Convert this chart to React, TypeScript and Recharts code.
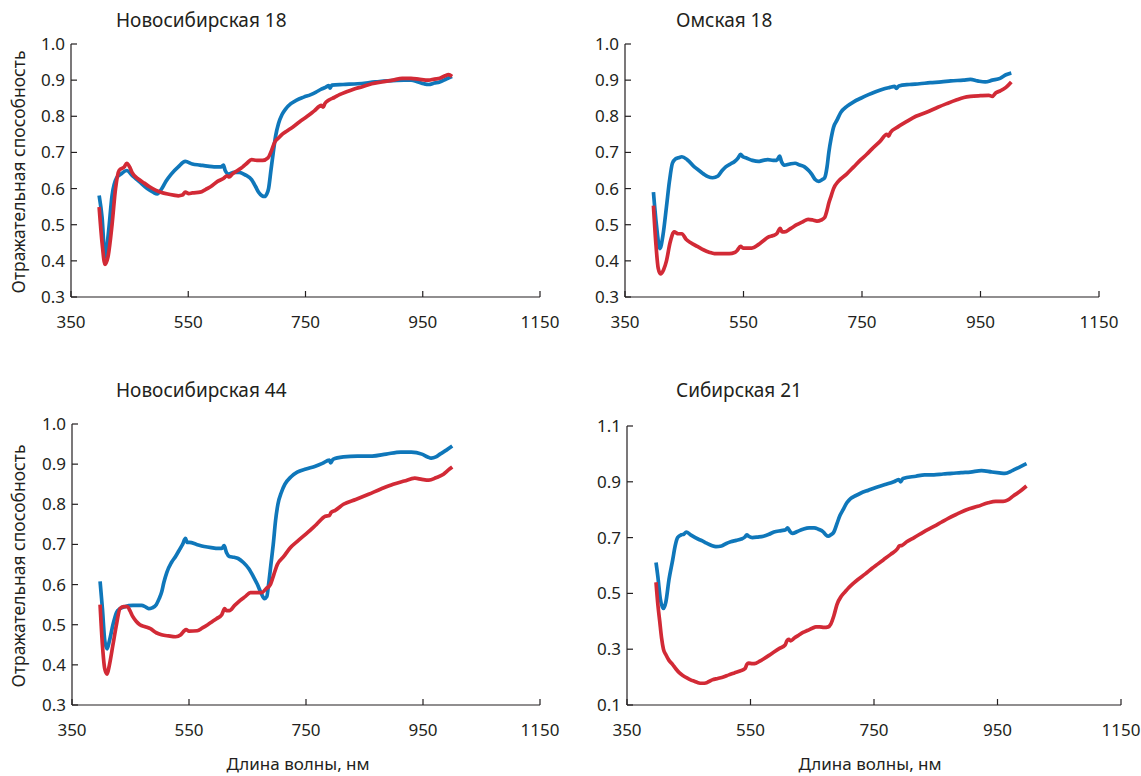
import React from 'react';
import { LineChart, Line, XAxis, YAxis } from 'recharts';

type Pt = [number, number];

const waveTicks = [350, 550, 750, 950, 1150];
const reflTicks = [0.3, 0.4, 0.5, 0.6, 0.7, 0.8, 0.9, 1.0];
const reflTicksWide = [0.1, 0.3, 0.5, 0.7, 0.9, 1.1];

const titles = ['Новосибирская 18', 'Омская 18', 'Новосибирская 44', 'Сибирская 21'];

const nsk18Blue: Pt[] = [[398,.581],[403,.52],[408,.41],[414,.48],[420,.58],[428,.63],[435,.64],[445,.65],[455,.635],[466,.62],[480,.6],[490,.59],[497,.585],[505,.6],[512,.62],[521,.64],[533,.66],[545,.675],[557,.668],[570,.665],[583,.662],[594,.66],[606,.66],[610,.665],[613,.65],[619,.64],[628,.645],[637,.645],[648,.637],[658,.625],[665,.605],[670,.59],[676,.58],[680,.578],[684,.585],[687,.6],[691,.65],[695,.7],[699,.745],[704,.78],[710,.805],[716,.82],[725,.835],[735,.845],[747,.853],[759,.86],[768,.867],[777,.875],[784,.88],[790,.885],[792,.878],[795,.886],[814,.888],[839,.89],[869,.895],[890,.898],[918,.9],[930,.9],[942,.895],[952,.89],[960,.888],[970,.892],[979,.895],[990,.903],[1000,.91]];
const nsk18Red: Pt[] = [[398,.549],[403,.45],[408,.39],[413,.41],[420,.5],[426,.6],[432,.65],[441,.66],[445,.67],[450,.66],[454,.645],[466,.625],[475,.615],[484,.605],[495,.595],[503,.59],[515,.585],[525,.582],[533,.58],[540,.582],[545,.59],[551,.586],[557,.588],[570,.59],[580,.598],[588,.605],[600,.62],[610,.628],[616,.635],[620,.632],[625,.64],[634,.65],[643,.66],[650,.67],[658,.68],[667,.678],[677,.678],[686,.685],[692,.705],[698,.73],[704,.74],[710,.75],[719,.76],[728,.77],[740,.785],[753,.8],[765,.815],[777,.83],[780,.825],[783,.835],[790,.845],[799,.852],[808,.86],[820,.868],[832,.875],[847,.882],[863,.89],[880,.895],[899,.9],[915,.905],[930,.905],[945,.902],[960,.9],[970,.903],[979,.905],[988,.912],[994,.915],[1000,.91]];

const omsk18Blue: Pt[] = [[398,.59],[403,.5],[409,.434],[414,.47],[420,.55],[425,.62],[430,.67],[435,.682],[440,.685],[446,.688],[455,.68],[467,.66],[475,.65],[483,.64],[490,.633],[498,.63],[507,.635],[514,.65],[520,.66],[528,.668],[535,.675],[541,.685],[545,.695],[549,.688],[554,.685],[565,.678],[575,.675],[583,.678],[591,.68],[600,.678],[606,.678],[611,.69],[614,.675],[619,.665],[628,.668],[637,.67],[645,.665],[653,.66],[660,.65],[665,.64],[671,.625],[677,.62],[683,.625],[687,.63],[691,.66],[694,.7],[698,.74],[702,.77],[708,.79],[714,.81],[725,.828],[736,.84],[748,.85],[761,.86],[773,.868],[785,.875],[797,.88],[805,.883],[808,.877],[812,.884],[830,.888],[847,.89],[865,.893],[884,.895],[900,.898],[921,.9],[933,.902],[945,.898],[958,.895],[970,.9],[983,.905],[993,.915],[1002,.92]];
const omsk18Red: Pt[] = [[398,.553],[402,.45],[406,.38],[410,.364],[415,.375],[420,.4],[426,.45],[433,.48],[440,.475],[446,.475],[453,.46],[461,.45],[472,.44],[483,.43],[492,.424],[501,.42],[514,.42],[526,.42],[535,.423],[539,.428],[545,.44],[550,.435],[564,.435],[575,.445],[583,.455],[591,.465],[600,.47],[606,.475],[612,.49],[615,.48],[619,.48],[630,.49],[640,.5],[650,.508],[659,.515],[667,.513],[674,.51],[681,.513],[687,.52],[691,.54],[694,.56],[698,.58],[702,.6],[710,.62],[724,.64],[736,.66],[748,.68],[758,.695],[767,.71],[780,.73],[792,.75],[795,.745],[798,.755],[810,.77],[825,.785],[841,.8],[860,.812],[878,.825],[893,.835],[909,.845],[922,.852],[933,.855],[950,.857],[964,.858],[970,.855],[976,.865],[983,.87],[993,.88],[1002,.895]];

const nsk44Blue: Pt[] = [[398,.608],[402,.54],[406,.46],[410,.44],[414,.46],[420,.5],[426,.53],[432,.54],[440,.545],[454,.548],[462,.548],[469,.548],[475,.545],[481,.54],[487,.542],[494,.55],[499,.565],[503,.58],[507,.605],[512,.63],[520,.655],[527,.67],[533,.685],[539,.7],[544,.715],[547,.705],[551,.705],[563,.7],[576,.695],[588,.692],[600,.69],[606,.69],[610,.697],[614,.68],[619,.67],[627,.668],[634,.665],[643,.655],[652,.64],[660,.62],[667,.6],[673,.58],[679,.565],[683,.57],[686,.6],[690,.65],[694,.7],[698,.76],[702,.8],[708,.83],[714,.85],[724,.868],[735,.88],[750,.888],[766,.895],[778,.902],[790,.91],[792,.903],[796,.912],[814,.918],[838,.92],[863,.92],[887,.925],[912,.93],[930,.93],[948,.925],[958,.918],[964,.915],[972,.918],[979,.925],[990,.935],[1000,.945]];
const nsk44Red: Pt[] = [[398,.55],[402,.45],[406,.39],[410,.377],[414,.4],[420,.45],[426,.5],[432,.54],[438,.545],[445,.545],[449,.535],[454,.52],[460,.508],[466,.5],[475,.495],[484,.49],[494,.48],[503,.475],[515,.472],[527,.47],[536,.475],[542,.485],[545,.488],[550,.484],[564,.485],[573,.492],[582,.5],[590,.508],[597,.515],[606,.525],[611,.54],[614,.535],[619,.535],[628,.548],[637,.56],[646,.57],[655,.58],[665,.58],[674,.58],[682,.59],[689,.6],[695,.625],[701,.65],[712,.67],[722,.69],[737,.71],[753,.73],[768,.75],[783,.77],[790,.772],[793,.78],[800,.785],[814,.8],[835,.812],[857,.825],[878,.838],[899,.85],[918,.858],[936,.865],[948,.862],[960,.86],[972,.866],[985,.875],[993,.885],[1000,.893]];

const sib21Blue: Pt[] = [[397,.611],[400,.56],[404,.48],[409,.446],[413,.47],[418,.55],[424,.62],[428,.67],[432,.7],[438,.71],[442,.712],[446,.72],[453,.71],[465,.695],[472,.688],[479,.68],[487,.672],[494,.668],[503,.67],[510,.678],[518,.685],[527,.69],[535,.695],[541,.702],[544,.71],[547,.705],[553,.7],[562,.702],[571,.705],[580,.712],[588,.72],[600,.725],[607,.728],[610,.735],[614,.722],[618,.715],[626,.722],[635,.73],[645,.735],[653,.735],[660,.73],[668,.72],[672,.71],[676,.705],[680,.71],[685,.72],[690,.75],[695,.78],[700,.8],[706,.825],[712,.84],[720,.85],[729,.86],[741,.87],[753,.88],[768,.89],[782,.9],[790,.908],[793,.9],[797,.912],[818,.92],[832,.925],[847,.925],[862,.928],[876,.93],[891,.933],[906,.935],[924,.94],[941,.935],[953,.932],[962,.93],[974,.94],[985,.952],[997,.965]];
const sib21Red: Pt[] = [[397,.54],[400,.46],[403,.4],[406,.34],[409,.3],[413,.28],[418,.26],[424,.245],[429,.23],[435,.215],[441,.205],[447,.197],[453,.19],[459,.185],[465,.18],[472,.178],[479,.18],[488,.19],[497,.195],[506,.2],[515,.208],[524,.215],[533,.222],[541,.23],[544,.245],[547,.25],[553,.248],[559,.25],[565,.257],[571,.265],[580,.278],[588,.29],[597,.303],[606,.315],[609,.33],[612,.335],[615,.33],[621,.34],[628,.35],[635,.36],[643,.368],[650,.375],[656,.38],[662,.38],[669,.378],[676,.38],[680,.39],[685,.42],[690,.46],[697,.49],[703,.505],[709,.52],[716,.535],[724,.55],[736,.57],[747,.59],[756,.605],[765,.62],[777,.64],[788,.66],[791,.67],[795,.672],[803,.685],[815,.7],[830,.72],[847,.74],[859,.755],[871,.77],[885,.785],[900,.8],[918,.812],[935,.825],[947,.83],[959,.83],[967,.835],[976,.85],[986,.865],[997,.885]];

const BLUE = '#0f77ba';
const RED = '#d22a36';
const INK = '#231f20';
const FONT = '"Noto Sans", "Open Sans", sans-serif';

const toRows = (pts: Pt[]) => pts.map(([w, r]) => ({ w, r }));

const XTick = (props: any) => {
    const { x, y, payload } = props;
    return (
        <g>
            <line x1={x} y1={y} x2={x} y2={y - 6} stroke={INK} strokeWidth={1.2} />
            <text x={x} y={y + 31} textAnchor="middle" fill={INK} fontSize={17} fontFamily={FONT}>{payload.value}</text>
        </g>
    );
};

const YTick = (props: any) => {
    const { x, y, payload } = props;
    return (
        <g>
            <line x1={x} y1={y} x2={x + 6} y2={y} stroke={INK} strokeWidth={1.2} />
            <text x={x - 6} y={y + 6} textAnchor="end" fill={INK} fontSize={17} fontFamily={FONT}>{Number(payload.value).toFixed(1)}</text>
        </g>
    );
};

interface IPanel {
    left: number;
    top: number;
    right: number;
    bottom: number;
    yTicks: number[];
    blue: Pt[];
    red: Pt[];
}

const Panel: React.FC<IPanel> = ({ left, top, right, bottom, yTicks, blue, red }) => {
    const padL = 60, padT = 20, padR = 25, padB = 40;
    const w = right - left + padL + padR;
    const h = bottom - top + padT + padB;
    const yMin = yTicks[0], yMax = yTicks[yTicks.length - 1];
    return (
        <div style={{ position: 'absolute', left: left - padL, top: top - padT }}>
            <LineChart width={w} height={h} margin={{ top: padT, right: padR, bottom: 0, left: 0 }}>
                <XAxis type="number" dataKey="w" domain={[350, 1150]} ticks={waveTicks} interval={0}
                    height={padB} tickSize={0} tickMargin={0} tick={<XTick />} stroke={INK} strokeWidth={1.2} allowDataOverflow />
                <YAxis type="number" dataKey="r" domain={[yMin, yMax]} ticks={yTicks} interval={0}
                    width={padL} tickSize={0} tickMargin={0} tick={<YTick />} stroke={INK} strokeWidth={1.2} allowDataOverflow />
                <Line data={toRows(blue)} dataKey="r" type="monotone" stroke={BLUE} strokeWidth={3.7} dot={false} isAnimationActive={false} />
                <Line data={toRows(red)} dataKey="r" type="monotone" stroke={RED} strokeWidth={3.7} dot={false} isAnimationActive={false} />
            </LineChart>
        </div>
    );
};

const textStyle: React.CSSProperties = { position: 'absolute', fontFamily: FONT, fontSize: 17, color: INK, whiteSpace: 'nowrap', lineHeight: '20px' };
const titleStyle: React.CSSProperties = { ...textStyle, fontSize: 19, lineHeight: '22px' };

const App: React.FC = () => {
    return (
        <div style={{ position: 'absolute', left: 0, top: 0, width: 1141, height: 776, background: '#fff', overflow: 'hidden' }}>
            <Panel left={71} top={44} right={540} bottom={297} yTicks={reflTicks} blue={nsk18Blue} red={nsk18Red} />
            <Panel left={625} top={44} right={1099} bottom={297} yTicks={reflTicks} blue={omsk18Blue} red={omsk18Red} />
            <Panel left={72} top={424} right={540} bottom={705} yTicks={reflTicks} blue={nsk44Blue} red={nsk44Red} />
            <Panel left={627} top={426} right={1121} bottom={705} yTicks={reflTicksWide} blue={sib21Blue} red={sib21Red} />

            <div style={{ ...titleStyle, left: 116, top: 9 }}>{titles[0]}</div>
            <div style={{ ...titleStyle, left: 676, top: 9 }}>{titles[1]}</div>
            <div style={{ ...titleStyle, left: 116, top: 379 }}>{titles[2]}</div>
            <div style={{ ...titleStyle, left: 676, top: 379 }}>{titles[3]}</div>

            <div style={{ ...textStyle, fontSize: 17.5, left: 18, top: 172, transform: 'translate(-50%, -50%) rotate(-90deg)' }}>Отражательная способность</div>
            <div style={{ ...textStyle, fontSize: 17.5, left: 18, top: 566, transform: 'translate(-50%, -50%) rotate(-90deg)' }}>Отражательная способность</div>

            <div style={{ ...textStyle, left: 298, top: 764, transform: 'translate(-50%, -50%)' }}>Длина волны, нм</div>
            <div style={{ ...textStyle, left: 870, top: 764, transform: 'translate(-50%, -50%)' }}>Длина волны, нм</div>
        </div>
    );
};

export default App;
